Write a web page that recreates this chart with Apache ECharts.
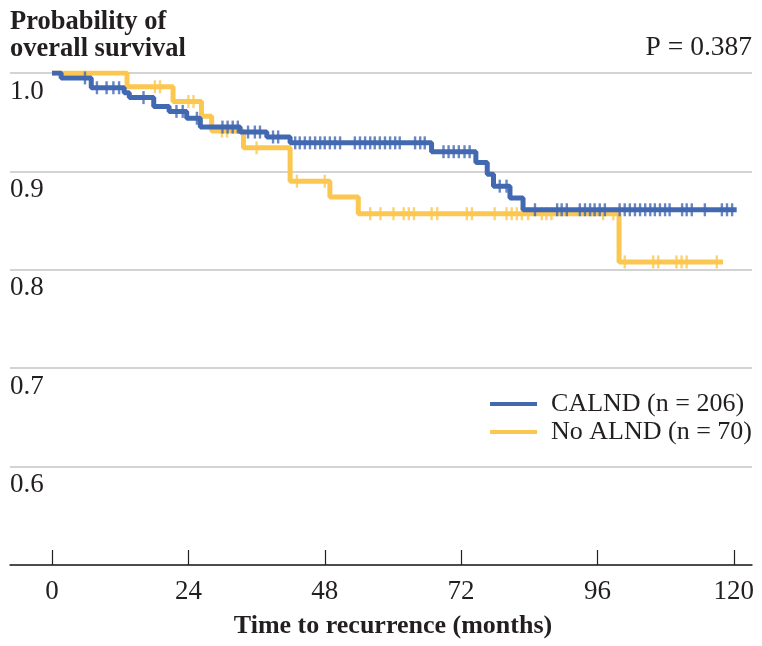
<!DOCTYPE html>
<html>
<head>
<meta charset="utf-8">
<script src="https://cdn.jsdelivr.net/npm/echarts@6/dist/echarts.min.js"></script>
<style>html,body{margin:0;padding:0;background:#fff;}#c{width:762px;height:646px;}</style>
</head>
<body>
<div id="c"></div>
<script>
// ---- data ----
const xTicks = [0, 24, 48, 72, 96, 120];
const yTicks = [0.6, 0.7, 0.8, 0.9, 1.0];

const calndName = 'CALND (n = 206)';
const calndTimes = [0, 1.6, 6.9, 12.7, 13.6, 17.9, 20.6, 23.7, 26.1, 33.1, 37.8, 41.9, 66.8, 74.6, 76.6, 77.7, 80.6, 82.9];
const calndSurv  = [1.0, 0.995, 0.985, 0.980, 0.975, 0.966, 0.961, 0.954, 0.945, 0.940, 0.935, 0.929, 0.920, 0.909, 0.897, 0.885, 0.873, 0.861];
const calndEnd = 120.5;
const calndCensor = [5.8, 7.9, 9.6, 10.8, 11.8, 16.1, 21.9, 23.0, 25.5, 30.0, 30.9, 31.8, 32.7, 34.5, 35.7, 36.6, 38.9, 39.8,
  42.8, 43.6, 44.5, 45.4, 46.3, 47.2, 48.0, 48.9, 49.8, 50.7, 53.3, 54.2, 55.1, 56.0, 56.8, 57.7, 58.6, 59.5, 60.4, 61.2,
  63.9, 64.8, 65.6, 68.9, 69.8, 70.7, 71.6, 72.6, 73.5, 78.8, 80.0, 85.0, 88.9, 89.7, 90.6, 92.9, 93.8, 94.7, 95.5, 96.4, 97.3,
  99.9, 100.8, 101.7, 102.6, 103.5, 104.4, 105.3, 106.1, 107.0, 107.9, 108.7, 110.9, 111.7, 112.6, 114.9, 117.9, 118.8, 119.7];

const noName = 'No ALND (n = 70)';
const noTimes = [0, 13.2, 21.3, 26.3, 28.1, 33.7, 41.9, 48.9, 53.9, 99.8];
const noSurv  = [1.0, 0.986, 0.971, 0.956, 0.941, 0.924, 0.890, 0.874, 0.857, 0.808];
const noEnd = 118.1;
const noCensor = [18.1, 19.0, 24.0, 24.9, 29.9, 30.8, 36.0, 43.1, 48.0, 56.0, 57.8, 60.1, 61.9, 62.8, 63.7, 66.8, 67.8,
  73.0, 73.9, 77.9, 80.0, 80.9, 81.8, 82.7, 83.8, 86.2, 87.0, 87.9, 97.0, 98.8, 100.8, 105.8, 106.7, 109.9, 110.8, 111.7, 117.0];

// ---- helpers ----
function stepData(times, surv, end) {
  const d = times.map((t, i) => [t, surv[i]]);
  d.push([end, surv[surv.length - 1]]);
  return d;
}
function censorData(times, surv, marks) {
  return marks.map(t => {
    let s = surv[0];
    for (let i = 0; i < times.length; i++) if (times[i] <= t) s = surv[i];
    return [t, s];
  });
}

const BLUE = '#4268b1';
const YELLOW = '#fcc750';
const FONT = "'Liberation Serif', 'Times New Roman', serif";
const TXT = '#231f20';

const chart = echarts.init(document.getElementById('c'));
chart.setOption({
  animation: false,
  backgroundColor: '#fff',
  title: {
    text: 'Probability of\noverall survival',
    left: 10, top: 9, padding: 0,
    textStyle: { fontFamily: FONT, fontWeight: 'bold', fontSize: 26.5, lineHeight: 27, color: TXT }
  },
  graphic: [
    { type: 'text', right: 10, top: 34,
      style: { text: 'P = 0.387', font: "27.5px 'Liberation Serif', serif", fill: TXT } },
    { type: 'text', x: 393, y: 613,
      style: { text: 'Time to recurrence (months)', font: "bold 26px 'Liberation Serif', serif", fill: TXT, textAlign: 'center' } }
  ],
  legend: {
    orient: 'vertical', right: 10, top: 391, padding: 0,
    icon: 'rect', itemWidth: 47, itemHeight: 4, itemGap: 2,
    textStyle: { fontFamily: FONT, fontSize: 26, color: TXT, padding: [0, 0, 0, 9] },
    data: [calndName, noName]
  },
  grid: { left: 10, right: 10, top: 73, bottom: 81 },
  xAxis: {
    type: 'value', min: -7.4, max: 123.2,
    axisLine: { show: true, lineStyle: { color: '#231f20', width: 1.5 } },
    axisTick: { show: true, inside: true, length: 15, customValues: xTicks, lineStyle: { color: '#231f20', width: 1.2 } },
    axisLabel: { customValues: xTicks, margin: 13, fontFamily: FONT, fontSize: 27, color: TXT },
    splitLine: { show: false }
  },
  yAxis: {
    type: 'value', min: 0.5, max: 1.0, interval: 0.1,
    axisLine: { show: false }, axisTick: { show: false },
    axisLabel: {
      inside: true, margin: 0, align: 'left', verticalAlign: 'top', padding: [5, 0, 0, 0],
      fontFamily: FONT, fontSize: 27, color: TXT,
      formatter: v => (v > 0.55 ? v.toFixed(1) : '')
    },
    splitLine: { show: true, lineStyle: { color: '#c4c4c4', width: 1.5 } }
  },
  series: [
    { name: noName, type: 'line', step: 'end', showSymbol: false, symbol: 'none',
      lineStyle: { color: YELLOW, width: 5 }, itemStyle: { color: YELLOW },
      data: stepData(noTimes, noSurv, noEnd), z: 2 },
    { name: noName + ' censored', type: 'scatter', symbol: 'rect', symbolSize: [2.4, 13],
      itemStyle: { color: YELLOW }, data: censorData(noTimes, noSurv, noCensor), z: 2 },
    { name: calndName, type: 'line', step: 'end', showSymbol: false, symbol: 'none',
      lineStyle: { color: BLUE, width: 5 }, itemStyle: { color: BLUE },
      data: stepData(calndTimes, calndSurv, calndEnd), z: 3 },
    { name: calndName + ' censored', type: 'scatter', symbol: 'rect', symbolSize: [2.4, 13],
      itemStyle: { color: BLUE }, data: censorData(calndTimes, calndSurv, calndCensor), z: 3 }
  ]
});
</script>
</body>
</html>
